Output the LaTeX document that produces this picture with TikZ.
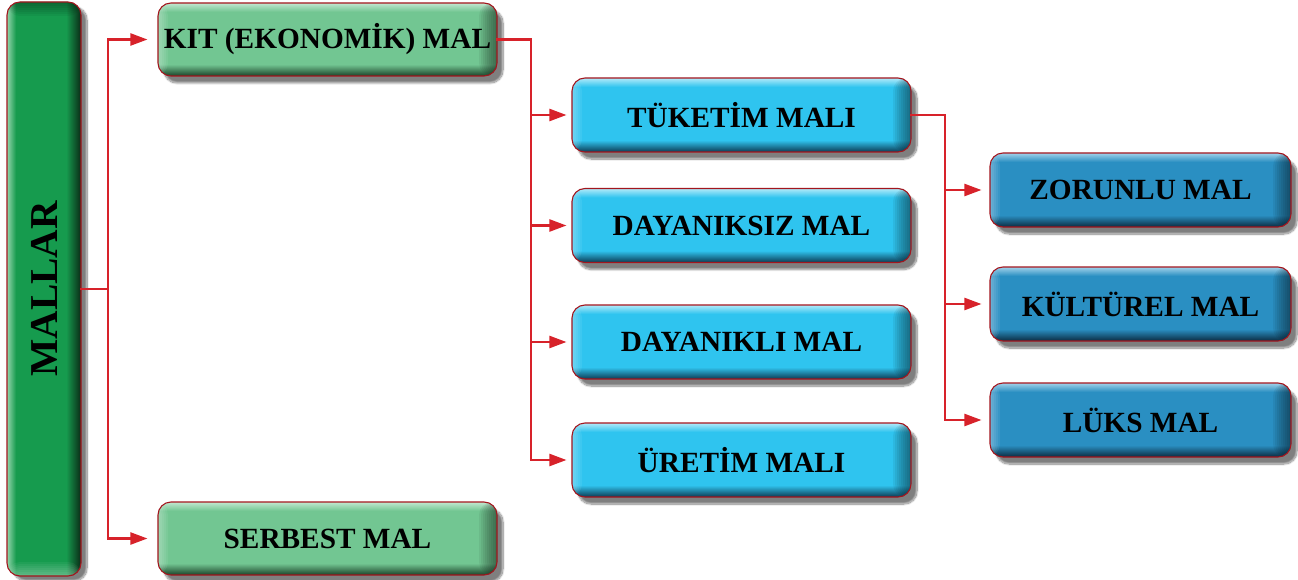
\documentclass[tikz,border=0pt]{standalone}
\usepackage{fontspec}
\setmainfont{Liberation Serif}
\usetikzlibrary{arrows.meta,shadows.blur}

\definecolor{lbbase}{HTML}{2FC4EF}
\definecolor{lblight}{HTML}{B2EAF9}
\definecolor{lbdark}{HTML}{0C3A52}
\definecolor{dbbase}{HTML}{2A8FC2}
\definecolor{dblight}{HTML}{A2D2EA}
\definecolor{dbdark}{HTML}{0B2B40}
\definecolor{lgbase}{HTML}{72C692}
\definecolor{lglight}{HTML}{C3E8D1}
\definecolor{lgdark}{HTML}{1B4229}
\definecolor{mgbase}{HTML}{169B4E}
\definecolor{mglight}{HTML}{92D5AB}
\definecolor{mgdark}{HTML}{0A2A16}
\definecolor{edgered}{HTML}{A3161E}
\definecolor{conred}{HTML}{D7222A}

\pgfdeclareverticalshading{lbshade}{100bp}{color(0bp)=(lbdark); color(25bp)=(lbdark); color(33bp)=(lbbase); color(69bp)=(lbbase); color(75bp)=(lblight); color(100bp)=(lblight)}
\pgfdeclareverticalshading{dbshade}{100bp}{color(0bp)=(dbdark); color(25bp)=(dbdark); color(33bp)=(dbbase); color(69bp)=(dbbase); color(75bp)=(dblight); color(100bp)=(dblight)}
\pgfdeclareverticalshading{lgshade}{100bp}{color(0bp)=(lgdark); color(25bp)=(lgdark); color(33bp)=(lgbase); color(69bp)=(lgbase); color(75bp)=(lglight); color(100bp)=(lglight)}
\pgfdeclarehorizontalshading{mgshade}{100bp}{color(0bp)=(mglight); color(25bp)=(mglight); color(31bp)=(mgbase); color(65bp)=(mgbase); color(75bp)=(mgdark); color(100bp)=(mgdark)}

\tikzset{
  btn/.style={rounded corners=13pt, draw=edgered, line width=1.1pt, shade,
    inner sep=0pt, text=black, font=\bfseries\fontsize{29.3}{32}\selectfont,
    blur shadow={shadow xshift=6pt, shadow yshift=-7pt, shadow opacity=50, shadow blur steps=12},
    path picture={
      \foreach \k in {1,...,9}{
        \fill[black, opacity=0.06] ([xshift=-\k*2pt]path picture bounding box.north east) rectangle (path picture bounding box.south east);
      }
      \foreach \k in {1,...,5}{
        \fill[white, opacity=0.07] (path picture bounding box.north west) rectangle ([xshift=\k*2pt]path picture bounding box.south west);
      }
    }},
  lgbtn/.style={btn, shading=lgshade, minimum width=339pt, minimum height=73pt},
  lbbtn/.style={btn, shading=lbshade, minimum width=339pt, minimum height=74pt},
  dbbtn/.style={btn, shading=dbshade, minimum width=301pt, minimum height=74pt},
  mbtn/.style={rounded corners=13pt, draw=edgered, line width=1.1pt, shade, shading=mgshade,
    inner sep=0pt, minimum width=74pt, minimum height=574pt,
    blur shadow={shadow xshift=6pt, shadow yshift=-5pt, shadow opacity=50, shadow blur steps=12},
    path picture={
      \foreach \k in {1,...,7}{
        \fill[black, opacity=0.05] (path picture bounding box.north west) rectangle ([yshift=-\k*2pt]path picture bounding box.north east);
        \fill[white, opacity=0.05] ([yshift=\k*2pt]path picture bounding box.south west) rectangle (path picture bounding box.south east);
      }
    }},
  conn/.style={draw=conred, line width=2.3pt, line cap=rect},
  arr/.style={conn, -{Triangle[length=17pt,width=12pt]}},
}

\begin{document}
\begin{tikzpicture}[x=1pt, y=-1pt]
\useasboundingbox (0,0) rectangle (1298,580);

\node[mbtn] (mallar) at (44,289) {};
\node[rotate=90, font=\bfseries\fontsize{39.5}{42}\selectfont, text=black] (mallart) at (mallar.center) {MALLAR};

\node[lgbtn] (kit) at (327.5,39.5) {KIT (EKONOMİK) MAL};
\node[lgbtn] (serbest) at (327.5,538.5) {SERBEST MAL};

\node[lbbtn] (tuketim) at (741.5,115) {TÜKETİM MALI};
\node[lbbtn] (dayaniksiz) at (741.5,225.5) {DAYANIKSIZ MAL};
\node[lbbtn] (dayanikli) at (741.5,342) {DAYANIKLI MAL};
\node[lbbtn] (uretim) at (741.5,460) {ÜRETİM MALI};

\node[dbbtn] (zorunlu) at (1140.5,190) {ZORUNLU MAL};
\node[dbbtn] (kulturel) at (1140.5,304) {KÜLTÜREL MAL};
\node[dbbtn] (luks) at (1140.5,420) {LÜKS MAL};

\coordinate (j1) at (108,289);
\draw[conn] (mallar.east) -- (j1);
\draw[arr, shorten >=10pt] (j1) |- (kit.west);
\draw[arr, shorten >=10pt] (j1) |- (serbest.west);

\coordinate (j2) at (531,40);
\draw[conn] (kit.east) -| (j2 |- uretim.west);
\draw[arr, shorten >=5pt] (j2 |- tuketim.west) -- (tuketim.west);
\draw[arr, shorten >=5pt] (j2 |- dayaniksiz.west) -- (dayaniksiz.west);
\draw[arr, shorten >=5pt] (j2 |- dayanikli.west) -- (dayanikli.west);
\draw[arr, shorten >=5pt] (j2 |- uretim.west) -- (uretim.west);

\coordinate (j3) at (945,115);
\draw[conn] (tuketim.east) -| (j3 |- luks.west);
\draw[arr, shorten >=8pt] (j3 |- zorunlu.west) -- (zorunlu.west);
\draw[arr, shorten >=8pt] (j3 |- kulturel.west) -- (kulturel.west);
\draw[arr, shorten >=8pt] (j3 |- luks.west) -- (luks.west);
\end{tikzpicture}
\end{document}
